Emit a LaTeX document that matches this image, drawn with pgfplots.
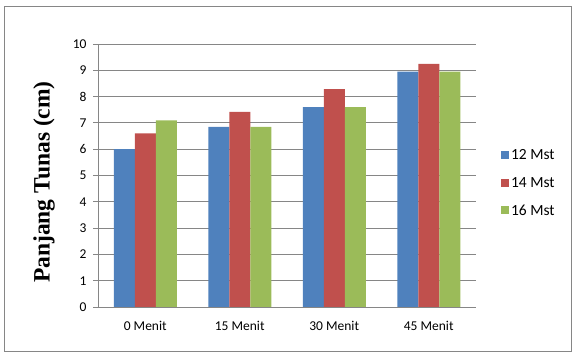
\documentclass[border=0pt]{standalone}
\usepackage{pgfplots}
\pgfplotsset{compat=1.18}
\usepackage{fontspec}
\setmainfont{Carlito}
\newfontfamily\timesfont{Liberation Serif}
\definecolor{cblue}{HTML}{4F81BD}
\definecolor{cred}{HTML}{C0504D}
\definecolor{cgreen}{HTML}{9BBB59}
\definecolor{cgrid}{HTML}{868686}
\begin{document}
\begin{tikzpicture}[x=1pt,y=1pt]
\useasboundingbox (0,0) rectangle (575,355);
\draw[cgrid, line width=1pt] (4,3.5) rectangle (571,348.5);
\begin{axis}[
  at={(98pt,48pt)}, anchor=south west,
  scale only axis, width=378pt, height=263pt,
  ybar=0pt, bar width=21pt,
  ymin=0, ymax=10, ytick={0,1,...,10},
  xmin=-0.5, xmax=3.5,
  xtick={0,1,2,3},
  xticklabels={0 Menit,15 Menit,30 Menit,45 Menit},
  major x tick style={draw=none},
  extra x ticks={-0.5,0.5,1.5,2.5,3.5},
  extra x tick labels={},
  extra x tick style={major tick length=6pt, tick align=outside, tick style={cgrid, line width=0.8pt}},
  ytick align=outside, major tick length=5pt,
  ytick style={cgrid, line width=0.8pt},
  ymajorgrids, grid style={cgrid, line width=0.9pt},
  axis x line*=bottom, axis y line*=left,
  axis line style={cgrid, line width=0.9pt, -},
  /pgf/number format/assume math mode=true,
  tick label style={font=\fontsize{13.5}{16}\selectfont, text=black},
  yticklabel style={xshift=-3pt},
  xticklabel style={yshift=-6pt},
  ylabel={\timesfont\bfseries Panjang Tunas (cm)},
  ylabel style={font=\fontsize{23.5}{26}\selectfont, at={(axis description cs:-0.143,0.475)}, anchor=center},
  legend style={at={(axis description cs:1.058,0.47)}, anchor=west, draw=none, fill=none,
    font=\fontsize{15.5}{18}\selectfont, row sep=12pt, nodes={inner xsep=2pt}},
  legend cell align=left,
  legend image code/.code={\fill[#1] (0pt,-3.5pt) rectangle (8pt,4.5pt);},
]
\addplot[fill=cblue, draw=none] coordinates {(0,6.0) (1,6.85) (2,7.6) (3,8.95)};
\addplot[fill=cred, draw=none] coordinates {(0,6.6) (1,7.42) (2,8.28) (3,9.24)};
\addplot[fill=cgreen, draw=none] coordinates {(0,7.1) (1,6.85) (2,7.6) (3,8.95)};
\legend{12 Mst,14 Mst,16 Mst}
\end{axis}
\end{tikzpicture}
\end{document}
